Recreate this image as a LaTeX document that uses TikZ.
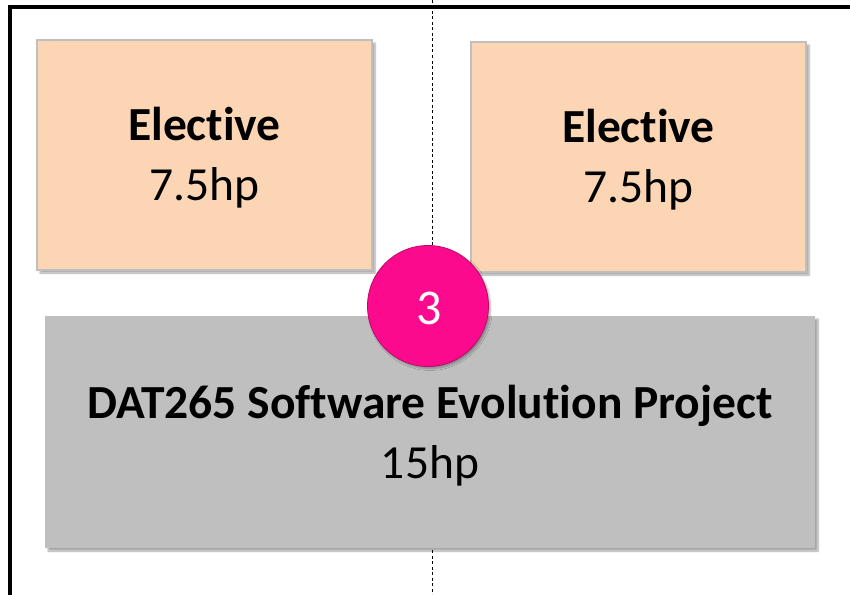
\documentclass[tikz,border=0pt]{standalone}
\usepackage{fontspec}
\setmainfont[Ligatures=NoCommon]{Carlito}
\usetikzlibrary{calc}
\usetikzlibrary{shadows.blur}
\definecolor{peach}{HTML}{FCD5B5}
\definecolor{boxgray}{HTML}{BFBFBF}
\definecolor{ballpink}{HTML}{FC0A8E}

\begin{document}
\begin{tikzpicture}[x=1pt,y=-1pt,
    course/.style={rectangle, align=center, inner sep=0pt,
        blur shadow={shadow xshift=3pt, shadow yshift=-3pt, shadow blur steps=6, shadow opacity=35}},
    elective/.style={course, fill=peach, draw=boxgray, line width=1.5pt,
        minimum width=335pt, minimum height=230pt},
    project/.style={course, fill=boxgray, minimum width=770pt, minimum height=232pt},
    badge/.style={circle, fill=ballpink, draw=ballpink!75!black, line width=0.8pt,
        minimum size=121pt, inner sep=0pt,
        blur shadow={shadow xshift=2pt, shadow yshift=-2pt, shadow blur steps=5, shadow opacity=30}},
    label/.style={align=center, font=\fontsize{47.5}{60}\selectfont}]
    \useasboundingbox (0,0) rectangle (850,594);
    \draw[line width=4pt] (10,600) -- (10,7) -- (860,7);
    \draw[black, thin, dash pattern=on 3pt off 2.5pt] (432,0) -- (432,594);

    \node[elective] (elec1) at (204.5,155) {};
    \node[elective] (elec2) at (638.5,157) {};
    \node[project] (dat265) at (430,432) {};
    \node[label] (elec1txt) at ($(elec1)+(0,3)$) {\textbf{Elective}\\7.5hp};
    \node[label] (elec2txt) at ($(elec2)+(0,3)$) {\textbf{Elective}\\7.5hp};
    \node[label] (dat265txt) at ($(dat265)+(0,4)$) {\textbf{DAT265 Software Evolution Project}\\15hp};
    \node[badge] (three) at (428,306) {};
    \node[text=white, font=\fontsize{50}{60}\selectfont] (threetxt) at ($(three)+(1,2)$) {3};
\end{tikzpicture}
\end{document}
